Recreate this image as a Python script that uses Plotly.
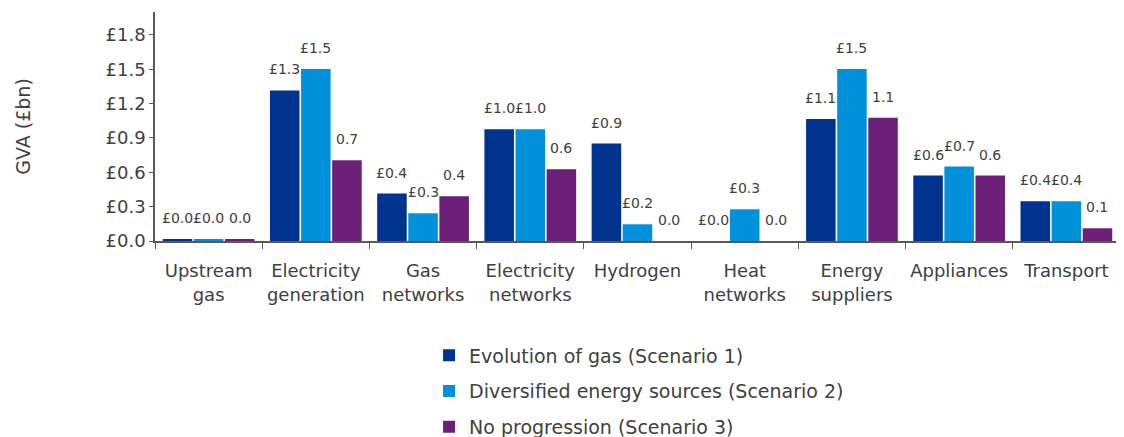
import plotly.graph_objects as go

categories = ["Upstream<br>gas", "Electricity<br>generation", "Gas<br>networks",
              "Electricity<br>networks", "Hydrogen", "Heat<br>networks",
              "Energy<br>suppliers", "Appliances", "Transport"]
series_names = ["Evolution of gas (Scenario 1)",
                "Diversified energy sources (Scenario 2)",
                "No progression (Scenario 3)"]
scenario1 = [0.015, 1.315, 0.414, 0.977, 0.851, 0.0, 1.065, 0.571, 0.347]
scenario2 = [0.015, 1.502, 0.242, 0.977, 0.146, 0.277, 1.502, 0.650, 0.347]
scenario3 = [0.015, 0.706, 0.391, 0.627, 0.0, 0.0, 1.076, 0.571, 0.111]
labels1 = ["£0.0", "£1.3", "£0.4", "£1.0", "£0.9", "£0.0", "£1.1", "£0.6", "£0.4"]
labels2 = ["£0.0", "£1.5", "£0.3", "£1.0", "£0.2", "£0.3", "£1.5", "£0.7", "£0.4"]
labels3 = ["0.0", "0.7", "0.4", "0.6", "0.0", "0.0", "1.1", "0.6", "0.1"]
y_tickvals = [0.0, 0.3, 0.6, 0.9, 1.2, 1.5, 1.8]
y_ticktext = ["£0.0", "£0.3", "£0.6", "£0.9", "£1.2", "£1.5", "£1.8"]

colors = ["#00338D", "#0091DA", "#6D2077"]
FONT = "DejaVu Sans"
TXT = "#404040"

# page body has an 8px margin
W, H = 1116, 445
ML, MR, MT, MB = 147, 4, 4, 212
BARGAP = 0.13

fig = go.Figure()
all_series = [scenario1, scenario2, scenario3]
all_labels = [labels1, labels2, labels3]
for i, vals in enumerate(all_series):
    fig.add_trace(go.Bar(
        x=categories, y=vals, name=series_names[i], legendgroup=f"g{i}",
        marker=dict(color=colors[i], line=dict(color="white", width=0)),
    ))

# value labels
plot_w = W - ML - MR
cat_w = plot_w / len(categories)
pitch = cat_w * (1 - BARGAP) / 3
annotations = []
for i, vals in enumerate(all_series):
    for c, v, t in zip(categories, vals, all_labels[i]):
        annotations.append(dict(
            x=c, y=v, xref="x", yref="y", text=t,
            showarrow=False, xanchor="center", yanchor="bottom",
            xshift=(i - 1) * pitch, yshift=11,
            font=dict(family=FONT, size=14, color=TXT),
        ))

fig.update_layout(
    width=W, height=H,
    margin=dict(l=ML, r=MR, t=MT, b=MB),
    paper_bgcolor="white", plot_bgcolor="white",
    barmode="group", bargap=BARGAP, bargroupgap=0.05,
    font=dict(family=FONT, color=TXT),
    annotations=annotations,
    showlegend=True,
    legend=dict(orientation="v", x=0.284, y=-0.417, xanchor="left", yanchor="top",
                font=dict(family=FONT, size=19, color=TXT),
                itemwidth=30, tracegroupgap=8, bgcolor="rgba(0,0,0,0)"),
)
fig.update_xaxes(
    showline=True, linecolor="#595959", linewidth=1.5,
    ticks="outside", tickson="boundaries", ticklen=6, tickcolor="#595959",
    tickfont=dict(family=FONT, size=18, color=TXT), ticklabelstandoff=13,
    showgrid=False, automargin=False, fixedrange=True,
)
fig.update_yaxes(
    range=[0, 2.0], tickvals=y_tickvals, ticktext=y_ticktext,
    showline=True, linecolor="#595959", linewidth=1.5,
    ticks="outside", ticklen=4, tickcolor="#595959",
    tickfont=dict(family=FONT, size=18, color=TXT),
    showgrid=False, zeroline=False, automargin=False,
    title=dict(text="GVA (£bn)", font=dict(family=FONT, size=19, color=TXT), standoff=70),
)

fig.write_html("out.html")
